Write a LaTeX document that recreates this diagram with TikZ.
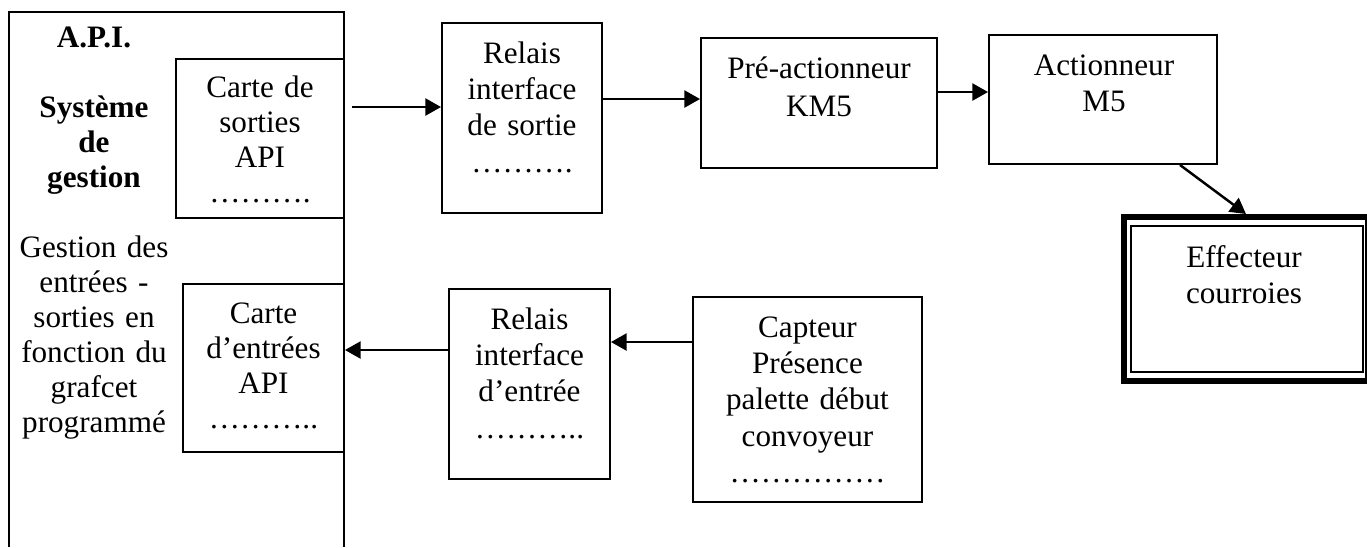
\documentclass[tikz,border=0pt]{standalone}
\usepackage{fontspec}
\setmainfont{Liberation Serif}
\usetikzlibrary{arrows.meta}
\begin{document}
\begin{tikzpicture}[x=0.385pt,y=-0.385pt]

    \tikzset{
      boite/.style 2 args={
        draw,
        line width=0.75pt,
        inner sep=0pt,
        minimum width=#1*0.385pt,
        minimum height=#2*0.385pt,
      },
      texte/.style={
        anchor=base,
        inner sep=0pt,
        align=center,
        font=\fontsize{12}{14}\selectfont,
      },
      fleche/.style={
        line width=0.95pt,
        -{Triangle[length=6pt,width=6.5pt]},
      },
    }
    \useasboundingbox (0,0) rectangle (1367,547);
    % bloc A.P.I., ouvert en bas
    \draw[line width=0.75pt] (9,547) -- (9,12) -- (344,12) -- (344,547);
    \node[texte,text width=64pt,font=\fontsize{12}{13.5}\selectfont] (apiTxt) at (94,47)
      {\textbf{A.P.I.}\\[13.5pt]\textbf{Système}\\\textbf{de}\\\textbf{gestion}\\[13.5pt]
       Gestion des\\entrées -\\sorties en\\fonction du\\grafcet\\programmé};

    % cartes
    \node[boite={168}{159}] (csort) at (260,138.5) {};
    \node[texte,text width=60pt,font=\fontsize{12}{13.5}\selectfont] (csortTxt) at (260,97)
      {Carte de\\sorties\\API\\……….};
    \node[boite={161}{168}] (centr) at (263.5,368) {};
    \node[texte,text width=60pt,font=\fontsize{12}{13.5}\selectfont] (centrTxt) at (263.5,323)
      {Carte\\d’entrées\\API\\………..};

    % chaine d'action
    \node[boite={160}{190}] (rsort) at (522,118) {};
    \node[texte,text width=60pt] (rsortTxt) at (522,63)
      {Relais\\interface\\de sortie\\……….};
    \node[boite={236}{130}] (pre) at (819,103) {};
    \node[texte,text width=85pt,font=\fontsize{12}{15}\selectfont] (preTxt) at (819,78)
      {Pré-actionneur\\KM5};
    \node[boite={228}{129}] (act) at (1103,99.5) {};
    \node[texte,text width=80pt] (actTxt) at (1104,75)
      {Actionneur\\M5};
    \node[boite={232}{146},line width=0.5pt] (effInt) at (1247,299) {};
    \node[boite={244}{164},line width=2.3pt] (eff) at (1246,299) {};
    \node[texte,text width=80pt] (effTxt) at (1244,267)
      {Effecteur\\courroies};

    % chaine d'acquisition
    \node[boite={161}{190}] (rentr) at (529.5,384) {};
    \node[texte,text width=60pt] (rentrTxt) at (529.5,329)
      {Relais\\interface\\d’entrée\\………..};
    \node[boite={229}{205}] (capt) at (807.5,399.5) {};
    \node[texte,text width=85pt] (captTxt) at (807.5,337)
      {Capteur\\Présence\\palette début\\convoyeur\\……………};

    % liaisons
    \draw[fleche,shorten <=2.7pt] (csort.east |- 0,107) -- (rsort.west |- 0,107);
    \draw[fleche] (rsort.east |- 0,99) -- (pre.west |- 0,99);
    \draw[fleche] (pre.east |- 0,92) -- (act.west |- 0,92);
    \draw[fleche] (act.south -| 1180,0) -- (eff.north);
    \draw[fleche] (capt.west |- 0,342) -- (rentr.east |- 0,342);
    \draw[fleche] (rentr.west |- 0,350) -- (centr.east |- 0,350);

\end{tikzpicture}
\end{document}
